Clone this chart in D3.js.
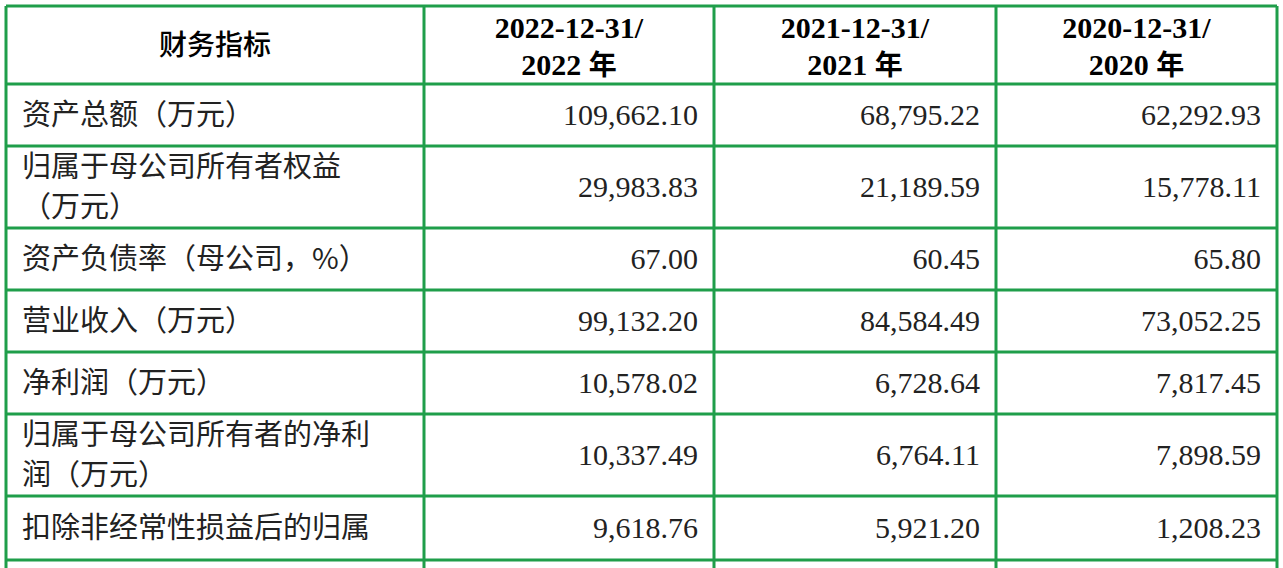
<!DOCTYPE html>
<html><head><meta charset="utf-8">
<script src="https://cdn.jsdelivr.net/npm/d3@7"></script>
<style>body{margin:0;background:#fff;overflow:hidden}</style>
</head><body><svg id="c" width="1283" height="568"></svg>
<script>
const headers = ["财务指标", ["2022-12-31/", "2022 年"], ["2021-12-31/", "2021 年"], ["2020-12-31/", "2020 年"]];
const categories = [["资产总额（万元）"], ["归属于母公司所有者权益", "（万元）"], ["资产负债率（母公司，%）"], ["营业收入（万元）"], ["净利润（万元）"], ["归属于母公司所有者的净利", "润（万元）"], ["扣除非经常性损益后的归属"], ["母公司所有者的净利润"]];
const v2022 = ["109,662.10", "29,983.83", "67.00", "99,132.20", "10,578.02", "10,337.49", "9,618.76", ""];
const v2021 = ["68,795.22", "21,189.59", "60.45", "84,584.49", "6,728.64", "6,764.11", "5,921.20", ""];
const v2020 = ["62,292.93", "15,778.11", "65.80", "73,052.25", "7,817.45", "7,898.59", "1,208.23", ""];
const rowEdges = [6, 84, 146, 228, 290, 352, 414, 496, 560, 640];
const colEdges = [6, 424, 714, 996, 1277];

const svg = d3.select("#c");
const green = "#1f9e4a";
const serif = "'Liberation Serif','Times New Roman',serif";
const cjk = "'Noto Sans CJK SC',sans-serif";
const hMid = (rowEdges[0] + rowEdges[1]) / 2;
svg.append("text").attr("x", (colEdges[0]+colEdges[1])/2).attr("y", hMid + 10).attr("text-anchor","middle")
  .attr("font-family", cjk).attr("font-size", 28).attr("font-weight", 500).text(headers[0]);
[1,2,3].forEach(i => {
  const cx = (colEdges[i]+colEdges[i+1])/2;
  const t = svg.append("text").attr("x", cx).attr("text-anchor","middle")
    .attr("font-family", serif).attr("font-weight","bold").attr("font-size", 30);
  t.append("tspan").attr("x", cx).attr("y", hMid - 7).text(headers[i][0]);
  const parts = headers[i][1].split(" ");
  const l2 = t.append("tspan").attr("x", cx).attr("y", hMid + 30);
  l2.append("tspan").text(parts[0] + " ");
  l2.append("tspan").attr("font-family", cjk).attr("font-weight", 700).attr("font-size", 28).text(parts[1]);
});
const vals = [v2022, v2021, v2020];
categories.forEach((lines, r) => {
  const top = rowEdges[r+1], bot = rowEdges[r+2], mid = (top+bot)/2;
  const n = lines.length;
  lines.forEach((s, k) => {
    svg.append("text").attr("x", 22).attr("y", mid + 10 + (k - (n-1)/2) * 40)
      .attr("font-family", cjk).attr("font-size", 29).attr("fill","#222").text(s);
  });
  vals.forEach((arr, c) => {
    svg.append("text").attr("x", colEdges[c+2] - 16).attr("y", mid + 10).attr("text-anchor","end")
      .attr("font-family", serif).attr("font-size", 30).attr("fill","#222").text(arr[r]);
  });
});
const g = svg.append("g").attr("stroke", green).attr("stroke-width", 3);
rowEdges.slice(0, 9).forEach(y => g.append("line").attr("x1", colEdges[0]).attr("x2", colEdges[4]).attr("y1", y).attr("y2", y));
colEdges.forEach(x => g.append("line").attr("x1", x).attr("x2", x).attr("y1", rowEdges[0]).attr("y2", 568));
</script></body></html>
